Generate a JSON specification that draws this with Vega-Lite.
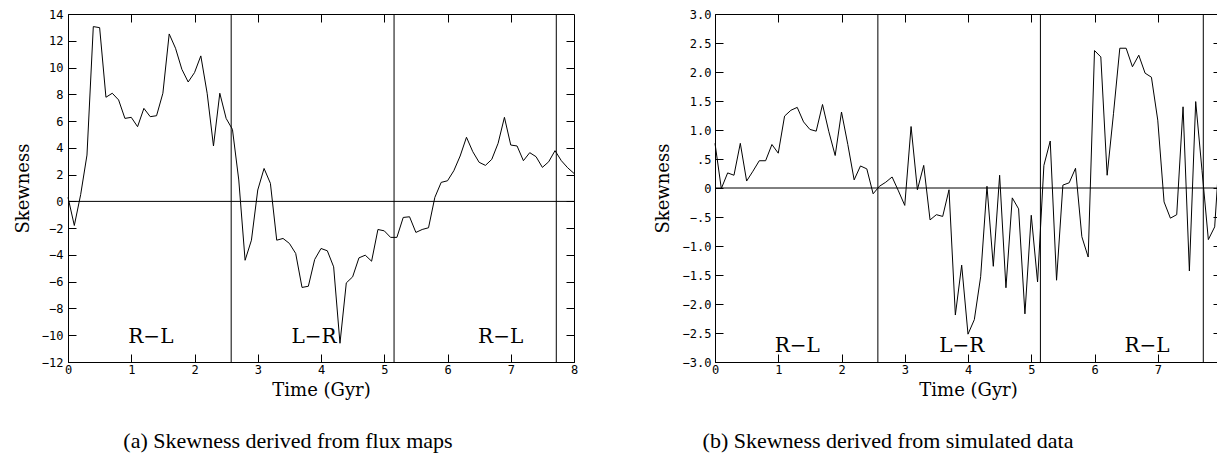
{
  "$schema": "https://vega.github.io/schema/vega-lite/v6.json",
  "background": "white",
  "padding": {"left": 13, "top": 7, "right": 0, "bottom": 0},
  "spacing": 141,
  "bounds": "flush",
  "datasets": {
    "flux": [
      {"t":0.0,"s":0.3},{"t":0.1,"s":-1.8},{"t":0.2,"s":0.5},{"t":0.3,"s":3.46},{"t":0.4,"s":13.06},{"t":0.5,"s":12.98},
      {"t":0.6,"s":7.78},{"t":0.7,"s":8.08},{"t":0.8,"s":7.58},{"t":0.9,"s":6.2},{"t":1.0,"s":6.28},{"t":1.1,"s":5.58},
      {"t":1.2,"s":6.95},{"t":1.3,"s":6.33},{"t":1.4,"s":6.4},{"t":1.5,"s":8.08},{"t":1.6,"s":12.51},{"t":1.7,"s":11.44},
      {"t":1.8,"s":9.87},{"t":1.9,"s":8.92},{"t":2.0,"s":9.62},{"t":2.1,"s":10.87},{"t":2.2,"s":8.08},{"t":2.3,"s":4.14},
      {"t":2.4,"s":8.08},{"t":2.5,"s":6.2},{"t":2.6,"s":5.38},{"t":2.7,"s":1.6},{"t":2.8,"s":-4.4},{"t":2.9,"s":-2.9},
      {"t":3.0,"s":0.85},{"t":3.1,"s":2.46},{"t":3.2,"s":1.35},{"t":3.3,"s":-2.9},{"t":3.4,"s":-2.77},{"t":3.5,"s":-3.14},
      {"t":3.6,"s":-3.89},{"t":3.7,"s":-6.43},{"t":3.8,"s":-6.34},{"t":3.9,"s":-4.34},{"t":4.0,"s":-3.52},{"t":4.1,"s":-3.69},
      {"t":4.2,"s":-4.89},{"t":4.3,"s":-10.6},{"t":4.4,"s":-6.09},{"t":4.5,"s":-5.64},{"t":4.6,"s":-4.22},{"t":4.7,"s":-4.02},
      {"t":4.8,"s":-4.47},{"t":4.9,"s":-2.1},{"t":5.0,"s":-2.2},{"t":5.1,"s":-2.69},{"t":5.2,"s":-2.69},{"t":5.3,"s":-1.2},
      {"t":5.4,"s":-1.15},{"t":5.5,"s":-2.32},{"t":5.6,"s":-2.1},{"t":5.7,"s":-1.97},{"t":5.8,"s":0.3},{"t":5.9,"s":1.42},
      {"t":6.0,"s":1.54},{"t":6.1,"s":2.29},{"t":6.2,"s":3.39},{"t":6.3,"s":4.79},{"t":6.4,"s":3.71},{"t":6.5,"s":2.92},
      {"t":6.6,"s":2.69},{"t":6.7,"s":3.14},{"t":6.8,"s":4.34},{"t":6.9,"s":6.28},{"t":7.0,"s":4.21},{"t":7.1,"s":4.14},
      {"t":7.2,"s":3.04},{"t":7.3,"s":3.64},{"t":7.4,"s":3.34},{"t":7.5,"s":2.54},{"t":7.6,"s":2.96},{"t":7.7,"s":3.79},
      {"t":7.8,"s":3.04},{"t":7.9,"s":2.51},{"t":8.0,"s":2.09}
    ],
    "sim": [
      {"t":0.0,"s":0.77},{"t":0.1,"s":-0.01},{"t":0.2,"s":0.26},{"t":0.3,"s":0.22},{"t":0.4,"s":0.77},{"t":0.5,"s":0.12},
      {"t":0.6,"s":0.29},{"t":0.7,"s":0.47},{"t":0.8,"s":0.47},{"t":0.9,"s":0.75},{"t":1.0,"s":0.6},{"t":1.1,"s":1.24},
      {"t":1.2,"s":1.34},{"t":1.3,"s":1.39},{"t":1.4,"s":1.14},{"t":1.5,"s":1.01},{"t":1.6,"s":0.98},{"t":1.7,"s":1.44},
      {"t":1.8,"s":0.97},{"t":1.9,"s":0.56},{"t":2.0,"s":1.31},{"t":2.1,"s":0.75},{"t":2.2,"s":0.14},{"t":2.3,"s":0.38},
      {"t":2.4,"s":0.33},{"t":2.5,"s":-0.1},{"t":2.6,"s":0.03},{"t":2.7,"s":0.1},{"t":2.8,"s":0.19},{"t":2.9,"s":-0.05},
      {"t":3.0,"s":-0.3},{"t":3.1,"s":1.06},{"t":3.2,"s":-0.03},{"t":3.3,"s":0.39},{"t":3.4,"s":-0.55},{"t":3.5,"s":-0.46},
      {"t":3.6,"s":-0.49},{"t":3.7,"s":-0.03},{"t":3.8,"s":-2.19},{"t":3.9,"s":-1.33},{"t":4.0,"s":-2.52},{"t":4.1,"s":-2.27},
      {"t":4.2,"s":-1.53},{"t":4.3,"s":0.03},{"t":4.4,"s":-1.35},{"t":4.5,"s":0.22},{"t":4.6,"s":-1.72},{"t":4.7,"s":-0.17},
      {"t":4.8,"s":-0.36},{"t":4.9,"s":-2.17},{"t":5.0,"s":-0.47},{"t":5.1,"s":-1.62},{"t":5.2,"s":0.39},{"t":5.3,"s":0.81},
      {"t":5.4,"s":-1.59},{"t":5.5,"s":0.05},{"t":5.6,"s":0.09},{"t":5.7,"s":0.34},{"t":5.8,"s":-0.84},{"t":5.9,"s":-1.19},
      {"t":6.0,"s":2.37},{"t":6.1,"s":2.26},{"t":6.2,"s":0.22},{"t":6.3,"s":1.28},{"t":6.4,"s":2.41},{"t":6.5,"s":2.41},
      {"t":6.6,"s":2.09},{"t":6.7,"s":2.29},{"t":6.8,"s":1.98},{"t":6.9,"s":1.91},{"t":7.0,"s":1.17},{"t":7.1,"s":-0.24},
      {"t":7.2,"s":-0.52},{"t":7.3,"s":-0.46},{"t":7.4,"s":1.4},{"t":7.5,"s":-1.43},{"t":7.6,"s":1.49},{"t":7.7,"s":0.3},
      {"t":7.8,"s":-0.89},{"t":7.9,"s":-0.67},{"t":8.0,"s":1.0}
    ],
    "vlines_a": [{"t":2.58},{"t":5.155},{"t":7.72}],
    "vlines_b": [{"t":2.575},{"t":5.145},{"t":7.72}],
    "labels_a": [{"t":1.31,"s":-10.55,"text":"R−L"},{"t":3.89,"s":-10.55,"text":"L−R"},{"t":6.84,"s":-10.55,"text":"R−L"}],
    "labels_b": [{"t":1.3,"s":-2.83,"text":"R−L"},{"t":3.9,"s":-2.83,"text":"L−R"},{"t":6.83,"s":-2.83,"text":"R−L"}]
  },
  "hconcat": [
    {
      "width": 506,
      "height": 348,
      "title": {"text": "(a) Skewness derived from flux maps", "orient": "bottom", "font": "Liberation Serif", "fontSize": 22, "fontWeight": "normal", "color": "black", "offset": 32, "dx": -33},
      "resolve": {"axis": {"x": "independent", "y": "independent"}},
      "layer": [
        {
          "data": {"name": "flux"},
          "mark": {"type": "line", "color": "black", "strokeWidth": 1},
          "encoding": {
            "x": {"field": "t", "type": "quantitative", "scale": {"domain": [0, 8], "nice": false, "zero": false},
                  "axis": {"orient": "bottom", "title": "Time (Gyr)", "values": [0,1,2,3,4,5,6,7,8], "tickSize": -8, "labelPadding": 10, "titlePadding": 6, "labelFlush": false}},
            "y": {"field": "s", "type": "quantitative", "scale": {"domain": [-12, 14], "nice": false, "zero": false},
                  "axis": {"orient": "left", "title": "Skewness", "values": [-12,-10,-8,-6,-4,-2,0,2,4,6,8,10,12,14], "tickSize": -8, "labelPadding": 13, "titlePadding": 9, "labelFlush": false}}
          }
        },
        {
          "data": {"name": "vlines_a"},
          "mark": {"type": "rule", "color": "black", "strokeWidth": 1},
          "encoding": {
            "x": {"field": "t", "type": "quantitative",
                  "axis": {"orient": "top", "title": null, "labels": false, "domain": false, "values": [1,2,3,4,5,6,7], "tickSize": -8}}
          }
        },
        {
          "data": {"values": [{}]},
          "mark": {"type": "rule", "color": "black", "strokeWidth": 1},
          "encoding": {
            "y": {"datum": 0, "type": "quantitative",
                  "axis": {"orient": "right", "title": null, "labels": false, "domain": false, "values": [-10,-8,-6,-4,-2,0,2,4,6,8,10,12], "tickSize": -8}}
          }
        },
        {
          "data": {"name": "labels_a"},
          "mark": {"type": "text", "font": "DejaVu Serif", "fontSize": 20, "align": "center", "baseline": "alphabetic", "color": "black"},
          "encoding": {
            "x": {"field": "t", "type": "quantitative", "axis": null},
            "y": {"field": "s", "type": "quantitative", "axis": null},
            "text": {"field": "text"}
          }
        }
      ]
    },
    {
      "width": 506,
      "height": 348,
      "title": {"text": "(b) Skewness derived from simulated data", "orient": "bottom", "font": "Liberation Serif", "fontSize": 22, "fontWeight": "normal", "color": "black", "offset": 32, "dx": -80},
      "resolve": {"axis": {"x": "independent", "y": "independent"}},
      "layer": [
        {
          "data": {"name": "sim"},
          "mark": {"type": "line", "color": "black", "strokeWidth": 1},
          "encoding": {
            "x": {"field": "t", "type": "quantitative", "scale": {"domain": [0, 8], "nice": false, "zero": false},
                  "axis": {"orient": "bottom", "title": "Time (Gyr)", "values": [0,1,2,3,4,5,6,7,8], "tickSize": -8, "labelPadding": 10, "titlePadding": 6, "labelFlush": false}},
            "y": {"field": "s", "type": "quantitative", "scale": {"domain": [-3, 3], "nice": false, "zero": false},
                  "axis": {"orient": "left", "title": "Skewness", "values": [-3,-2.5,-2,-1.5,-1,-0.5,0,0.5,1,1.5,2,2.5,3], "tickSize": -8, "labelPadding": 12, "titlePadding": 10, "labelFlush": false,
                           "labelExpr": "datum.value == 0 ? '0' : replace(format(datum.value, '.1f'), '0.', '.')"}}
          }
        },
        {
          "data": {"name": "vlines_b"},
          "mark": {"type": "rule", "color": "black", "strokeWidth": 1},
          "encoding": {
            "x": {"field": "t", "type": "quantitative",
                  "axis": {"orient": "top", "title": null, "labels": false, "domain": false, "values": [1,2,3,4,5,6,7], "tickSize": -8}}
          }
        },
        {
          "data": {"values": [{}]},
          "mark": {"type": "rule", "color": "black", "strokeWidth": 1},
          "encoding": {
            "y": {"datum": 0, "type": "quantitative",
                  "axis": {"orient": "right", "title": null, "labels": false, "domain": false, "values": [-2.5,-2,-1.5,-1,-0.5,0,0.5,1,1.5,2,2.5], "tickSize": -8}}
          }
        },
        {
          "data": {"name": "labels_b"},
          "mark": {"type": "text", "font": "DejaVu Serif", "fontSize": 20, "align": "center", "baseline": "alphabetic", "color": "black"},
          "encoding": {
            "x": {"field": "t", "type": "quantitative", "axis": null},
            "y": {"field": "s", "type": "quantitative", "axis": null},
            "text": {"field": "text"}
          }
        }
      ]
    }
  ],
  "config": {
    "view": {"stroke": "black", "strokeWidth": 1},
    "axis": {
      "grid": false,
      "domainColor": "black",
      "tickColor": "black",
      "tickWidth": 1,
      "domainWidth": 1,
      "labelFont": "DejaVu Sans Mono",
      "labelFontSize": 12,
      "labelColor": "black",
      "titleFont": "DejaVu Serif",
      "titleFontSize": 18,
      "titleFontWeight": "normal",
      "titleColor": "black"
    }
  }
}
